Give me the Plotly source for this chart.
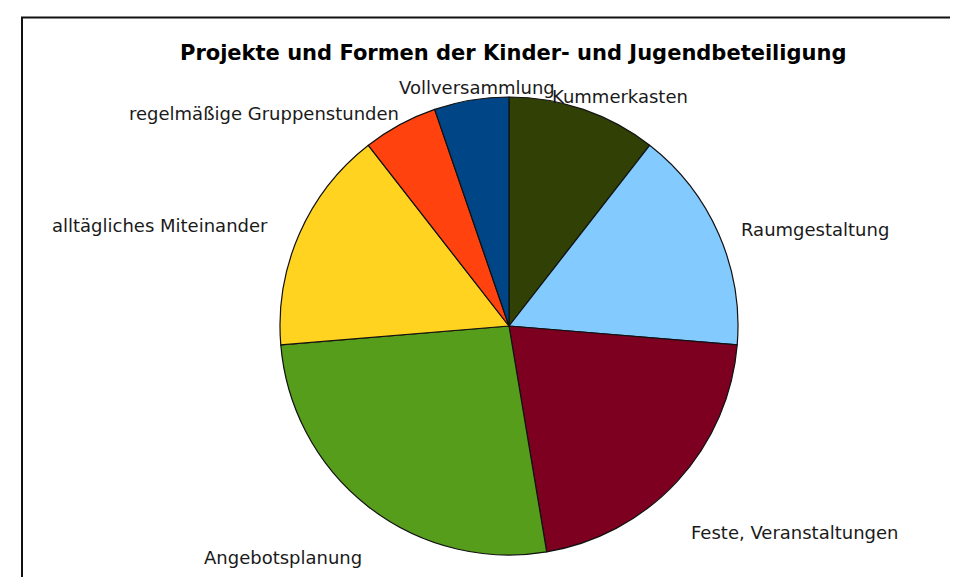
import plotly.graph_objects as go

labels = ["Kummerkasten", "Raumgestaltung", "Feste, Veranstaltungen", "Angebotsplanung",
          "alltägliches Miteinander", "regelmäßige Gruppenstunden", "Vollversammlung"]
values = [2, 3, 4, 5, 3, 1, 1]
colors = ["#314004", "#83caff", "#7e0021", "#579d1c", "#ffd320", "#ff420e", "#004586"]
title_text = "Projekte und Formen der Kinder- und Jugendbeteiligung"

W, H = 958, 577

fig = go.Figure(go.Pie(
    labels=labels, values=values, sort=False, direction="clockwise", rotation=0,
    marker=dict(colors=colors, line=dict(color="#111111", width=1.2)),
    textinfo="none", hoverinfo="label+percent", showlegend=False,
    domain=dict(x=[271 / W, 731 / W], y=[30 / H, 488 / H]),
))

# label placement (pixel positions: x, y, anchor)
label_pos = {
    "Vollversammlung": (549, 80, "right"),
    "Kummerkasten": (542, 88, "left"),
    "regelmäßige Gruppenstunden": (393, 105, "right"),
    "alltägliches Miteinander": (262, 218, "right"),
    "Raumgestaltung": (731, 221, "left"),
    "Feste, Veranstaltungen": (681, 524, "left"),
    "Angebotsplanung": (356, 549, "right"),
}
anns = []
for lab in labels:
    x, y, anc = label_pos[lab]
    anns.append(dict(text=lab, x=x / W, y=1 - y / H, xref="paper", yref="paper",
                     xanchor=anc, yanchor="middle", showarrow=False,
                     font=dict(family="DejaVu Sans", size=18, color="#1a1a1a")))
anns.append(dict(text="<b>" + title_text + "</b>", x=505 / W, y=1 - 45 / H,
                 xref="paper", yref="paper", xanchor="center", yanchor="middle",
                 showarrow=False,
                 font=dict(family="DejaVu Sans", size=21, color="#000000")))

fig.update_layout(
    width=W, height=H, margin=dict(l=0, r=0, t=0, b=0),
    paper_bgcolor="white", plot_bgcolor="white",
    annotations=anns,
    shapes=[dict(type="rect", xref="paper", yref="paper",
                 x0=14 / W, x1=1.05, y0=-0.1, y1=1 - 9.5 / H,
                 line=dict(color="#111111", width=2), fillcolor="rgba(0,0,0,0)")],
)

fig.write_html("out.html")
